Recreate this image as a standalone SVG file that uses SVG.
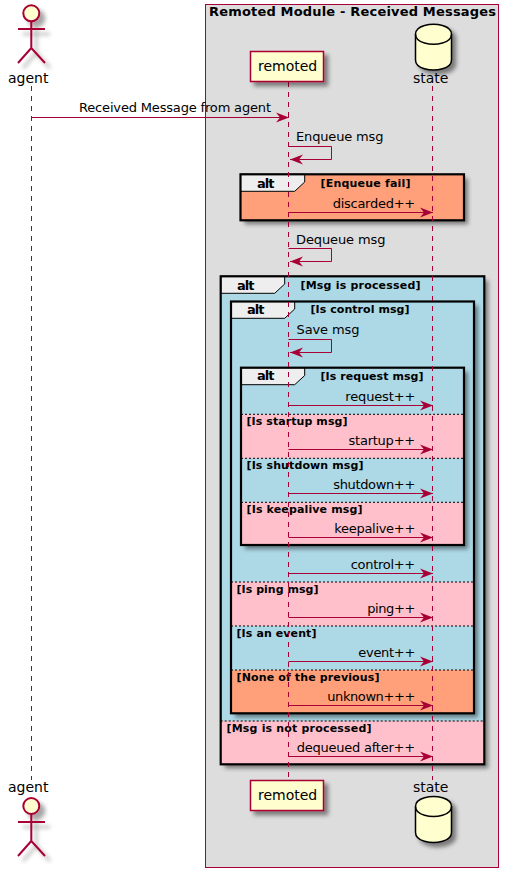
<svg xmlns="http://www.w3.org/2000/svg" width="508" height="877" viewBox="0 0 508 877">
<defs>
<filter id="sh" x="-20%" y="-20%" width="150%" height="150%"><feDropShadow dx="4" dy="4" stdDeviation="2" flood-color="#000" flood-opacity="0.45"/></filter>
<filter id="sa" x="-40%" y="-20%" width="200%" height="150%"><feDropShadow dx="5" dy="5" stdDeviation="2" flood-color="#000" flood-opacity="0.35"/></filter>
<marker id="ah" markerUnits="userSpaceOnUse" markerWidth="14" markerHeight="12" refX="13" refY="6" orient="auto"><path d="M0 1 L13 6 L0 11 L4 6 Z" fill="#A80036"/></marker>
</defs>
<style>
text{font-family:"DejaVu Sans",sans-serif;fill:#000}
.m{font-size:13px}
.p{font-size:14px}
.t{font-size:13px;font-weight:bold}
.g{font-size:11px;font-weight:bold}
.actor{fill:#FEFECE;stroke:#A80036;stroke-width:2}
.limb{fill:none;stroke:#A80036;stroke-width:2}
.part{fill:#FEFECE;stroke:#A80036;stroke-width:1.5}
.db{fill:#FEFECE;stroke:#000;stroke-width:1.5}
.dbl{fill:none;stroke:#000;stroke-width:1.5}
.life{stroke:#A80036;stroke-dasharray:5 5;fill:none}
.arr{stroke:#A80036;fill:none;marker-end:url(#ah)}
.frame{fill:none;stroke:#000;stroke-width:2.2}
.tab{fill:#EEEEEE;stroke:#000;stroke-width:1}
.sep{stroke:#000;stroke-dasharray:2 2;fill:none}
.blue{fill:#ADD8E6}.pink{fill:#FFC0CB}.sal{fill:#FFA07A}
</style>
<g id="box"><rect x="205.500" y="4.500" width="293" height="863" fill="#DDDDDD" stroke="#A80036"/>
<text class="t" x="209" y="16" textLength="287">Remoted Module - Received Messages</text></g>

<g id="alt-enqueue">
<rect x="240.500" y="174.300" width="223.500" height="46" class="sal" filter="url(#sh)"/>
<path d="M240.500 174.300H304.700V182L294.700 191.300H240.500Z" class="tab"/>
<rect x="240.500" y="174.300" width="223.500" height="46" class="frame"/>
<text class="t" x="257" y="188" textLength="17.500">alt</text><text class="g" x="320.500" y="187" textLength="90">[Enqueue fail]</text>
</g>

<g id="alt-processed">
<rect x="220.700" y="276.300" width="263.600" height="488" class="blue" filter="url(#sh)"/>
<rect x="221" y="721" width="263" height="43" class="pink"/>
<path d="M220.700 276.300H284.700V284L274.700 293.300H220.700Z" class="tab"/>
<path d="M220.700 721H484.300" class="sep"/>
<rect x="220.700" y="276.300" width="263.600" height="488" class="frame"/>
<text class="t" x="237" y="290" textLength="17.500">alt</text><text class="g" x="300.500" y="289" textLength="120">[Msg is processed]</text>
<text class="g" x="226.500" y="732" textLength="145">[Msg is not processed]</text>
</g>

<g id="alt-control">
<rect x="231" y="301.500" width="243" height="411.800" class="blue" filter="url(#sh)"/>
<rect x="231" y="582" width="243" height="44" class="pink"/>
<rect x="231" y="670" width="243" height="43" class="sal"/>
<path d="M231 301.500H294.700V309L284.700 318.300H231Z" class="tab"/>
<path d="M231 582H474M231 626H474M231 670H474" class="sep"/>
<rect x="231" y="301.500" width="243" height="411.800" class="frame"/>
<text class="t" x="247" y="314" textLength="17.500">alt</text><text class="g" x="310.500" y="313" textLength="99">[Is control msg]</text>
<text class="g" x="236.500" y="593" textLength="82">[Is ping msg]</text>
<text class="g" x="236.500" y="637" textLength="80">[Is an event]</text>
<text class="g" x="236.500" y="681" textLength="143">[None of the previous]</text>
</g>

<g id="alt-request">
<rect x="241" y="367.700" width="223" height="177.300" class="blue" filter="url(#sh)"/>
<rect x="241" y="414.300" width="223" height="44" class="pink"/>
<rect x="241" y="502.300" width="223" height="42.500" class="pink"/>
<path d="M241 367.700H304.700V375.500L294.700 384.700H241Z" class="tab"/>
<path d="M241 414.300H464M241 458.300H464M241 502.300H464" class="sep"/>
<rect x="241" y="367.700" width="223" height="177.300" class="frame"/>
<text class="t" x="257" y="380" textLength="17.500">alt</text><text class="g" x="320.500" y="380" textLength="103">[Is request msg]</text>
<text class="g" x="246.500" y="425" textLength="101">[Is startup msg]</text>
<text class="g" x="246.500" y="469" textLength="117">[Is shutdown msg]</text>
<text class="g" x="246.500" y="513" textLength="116">[Is keepalive msg]</text>
</g>

<g id="lifelines">
<path class="life" d="M31.500 86V780"/>
<path class="life" d="M288.500 82V780"/>
<path class="life" d="M432.500 86V780"/>
</g>

<g id="agent">
<g filter="url(#sa)"><circle class="actor" cx="31.300" cy="13.300" r="8"/><path class="limb" d="M31.300 21.300V48M18 29H45M31.300 48L18 63M31.300 48L45 63"/></g>
<text class="p" x="8" y="83">agent</text>
</g>
<g id="agent-bottom">
<text class="p" x="8" y="792">agent</text>
<g filter="url(#sa)"><circle class="actor" cx="31.300" cy="806" r="8"/><path class="limb" d="M31.300 814V841M18 822H45M31.300 841L18 856M31.300 841L45 856"/></g>
</g>

<g id="remoted"><rect class="part" x="250.500" y="51.500" width="73" height="30" filter="url(#sh)"/><text class="p" x="258" y="71">remoted</text></g>
<g id="remoted-bottom"><rect class="part" x="250.500" y="780.500" width="73" height="30" filter="url(#sh)"/><text class="p" x="258" y="800">remoted</text></g>

<g id="state">
<path class="db" filter="url(#sh)" d="M415.500 34.300C415.500 24.300 433.500 24.300 433.500 24.300C433.500 24.300 451.500 24.300 451.500 34.300V60C451.500 70 433.500 70 433.500 70C433.500 70 415.500 70 415.500 60Z"/>
<path class="dbl" d="M415.500 34.300C415.500 44.300 433.500 44.300 433.500 44.300C433.500 44.300 451.500 44.300 451.500 34.300"/>
<text class="p" x="413" y="83">state</text>
</g>
<g id="state-bottom">
<text class="p" x="413" y="792">state</text>
<path class="db" filter="url(#sh)" d="M415.500 806.500C415.500 796.500 433.500 796.500 433.500 796.500C433.500 796.500 451.500 796.500 451.500 806.500V832.500C451.500 842.500 433.500 842.500 433.500 842.500C433.500 842.500 415.500 842.500 415.500 832.500Z"/>
<path class="dbl" d="M415.500 806.500C415.500 816.500 433.500 816.500 433.500 816.500C433.500 816.500 451.500 816.500 451.500 806.500"/>
</g>

<g id="connectors">
<path class="arr" d="M31.500 117.500H289"/><text class="m" x="79" y="112" textLength="192">Received Message from agent</text>
<path class="arr" d="M288.500 146.500H331.500V159.500H290"/><text class="m" x="296" y="141" textLength="87.500">Enqueue msg</text>
<path class="arr" d="M288.500 212.500H433"/><text class="m" x="332.700" y="208" textLength="82.500">discarded++</text>
<path class="arr" d="M288.500 248.500H331.500V261.500H290"/><text class="m" x="296" y="244" textLength="89.500">Dequeue msg</text>
<path class="arr" d="M288.500 339.500H331.500V352.500H290"/><text class="m" x="296.500" y="334" textLength="63">Save msg</text>
<path class="arr" d="M288.500 405.500H433"/><text class="m" x="345.300" y="401" textLength="70">request++</text>
<path class="arr" d="M288.500 449.500H433"/><text class="m" x="348.500" y="445" textLength="66.700">startup++</text>
<path class="arr" d="M288.500 493.500H433"/><text class="m" x="333.300" y="489" textLength="82">shutdown++</text>
<path class="arr" d="M288.500 537.500H433"/><text class="m" x="334.300" y="533" textLength="81">keepalive++</text>
<path class="arr" d="M288.500 573.500H433"/><text class="m" x="350.700" y="569" textLength="64.500">control++</text>
<path class="arr" d="M288.500 617.500H433"/><text class="m" x="367.300" y="613" textLength="48">ping++</text>
<path class="arr" d="M288.500 661.500H433"/><text class="m" x="358.300" y="657" textLength="57">event++</text>
<path class="arr" d="M288.500 705.500H433"/><text class="m" x="327.300" y="701" textLength="88">unknown+++</text>
<path class="arr" d="M288.500 756.500H433"/><text class="m" x="296.700" y="752" textLength="118.500">dequeued after++</text>
</g>
</svg>
